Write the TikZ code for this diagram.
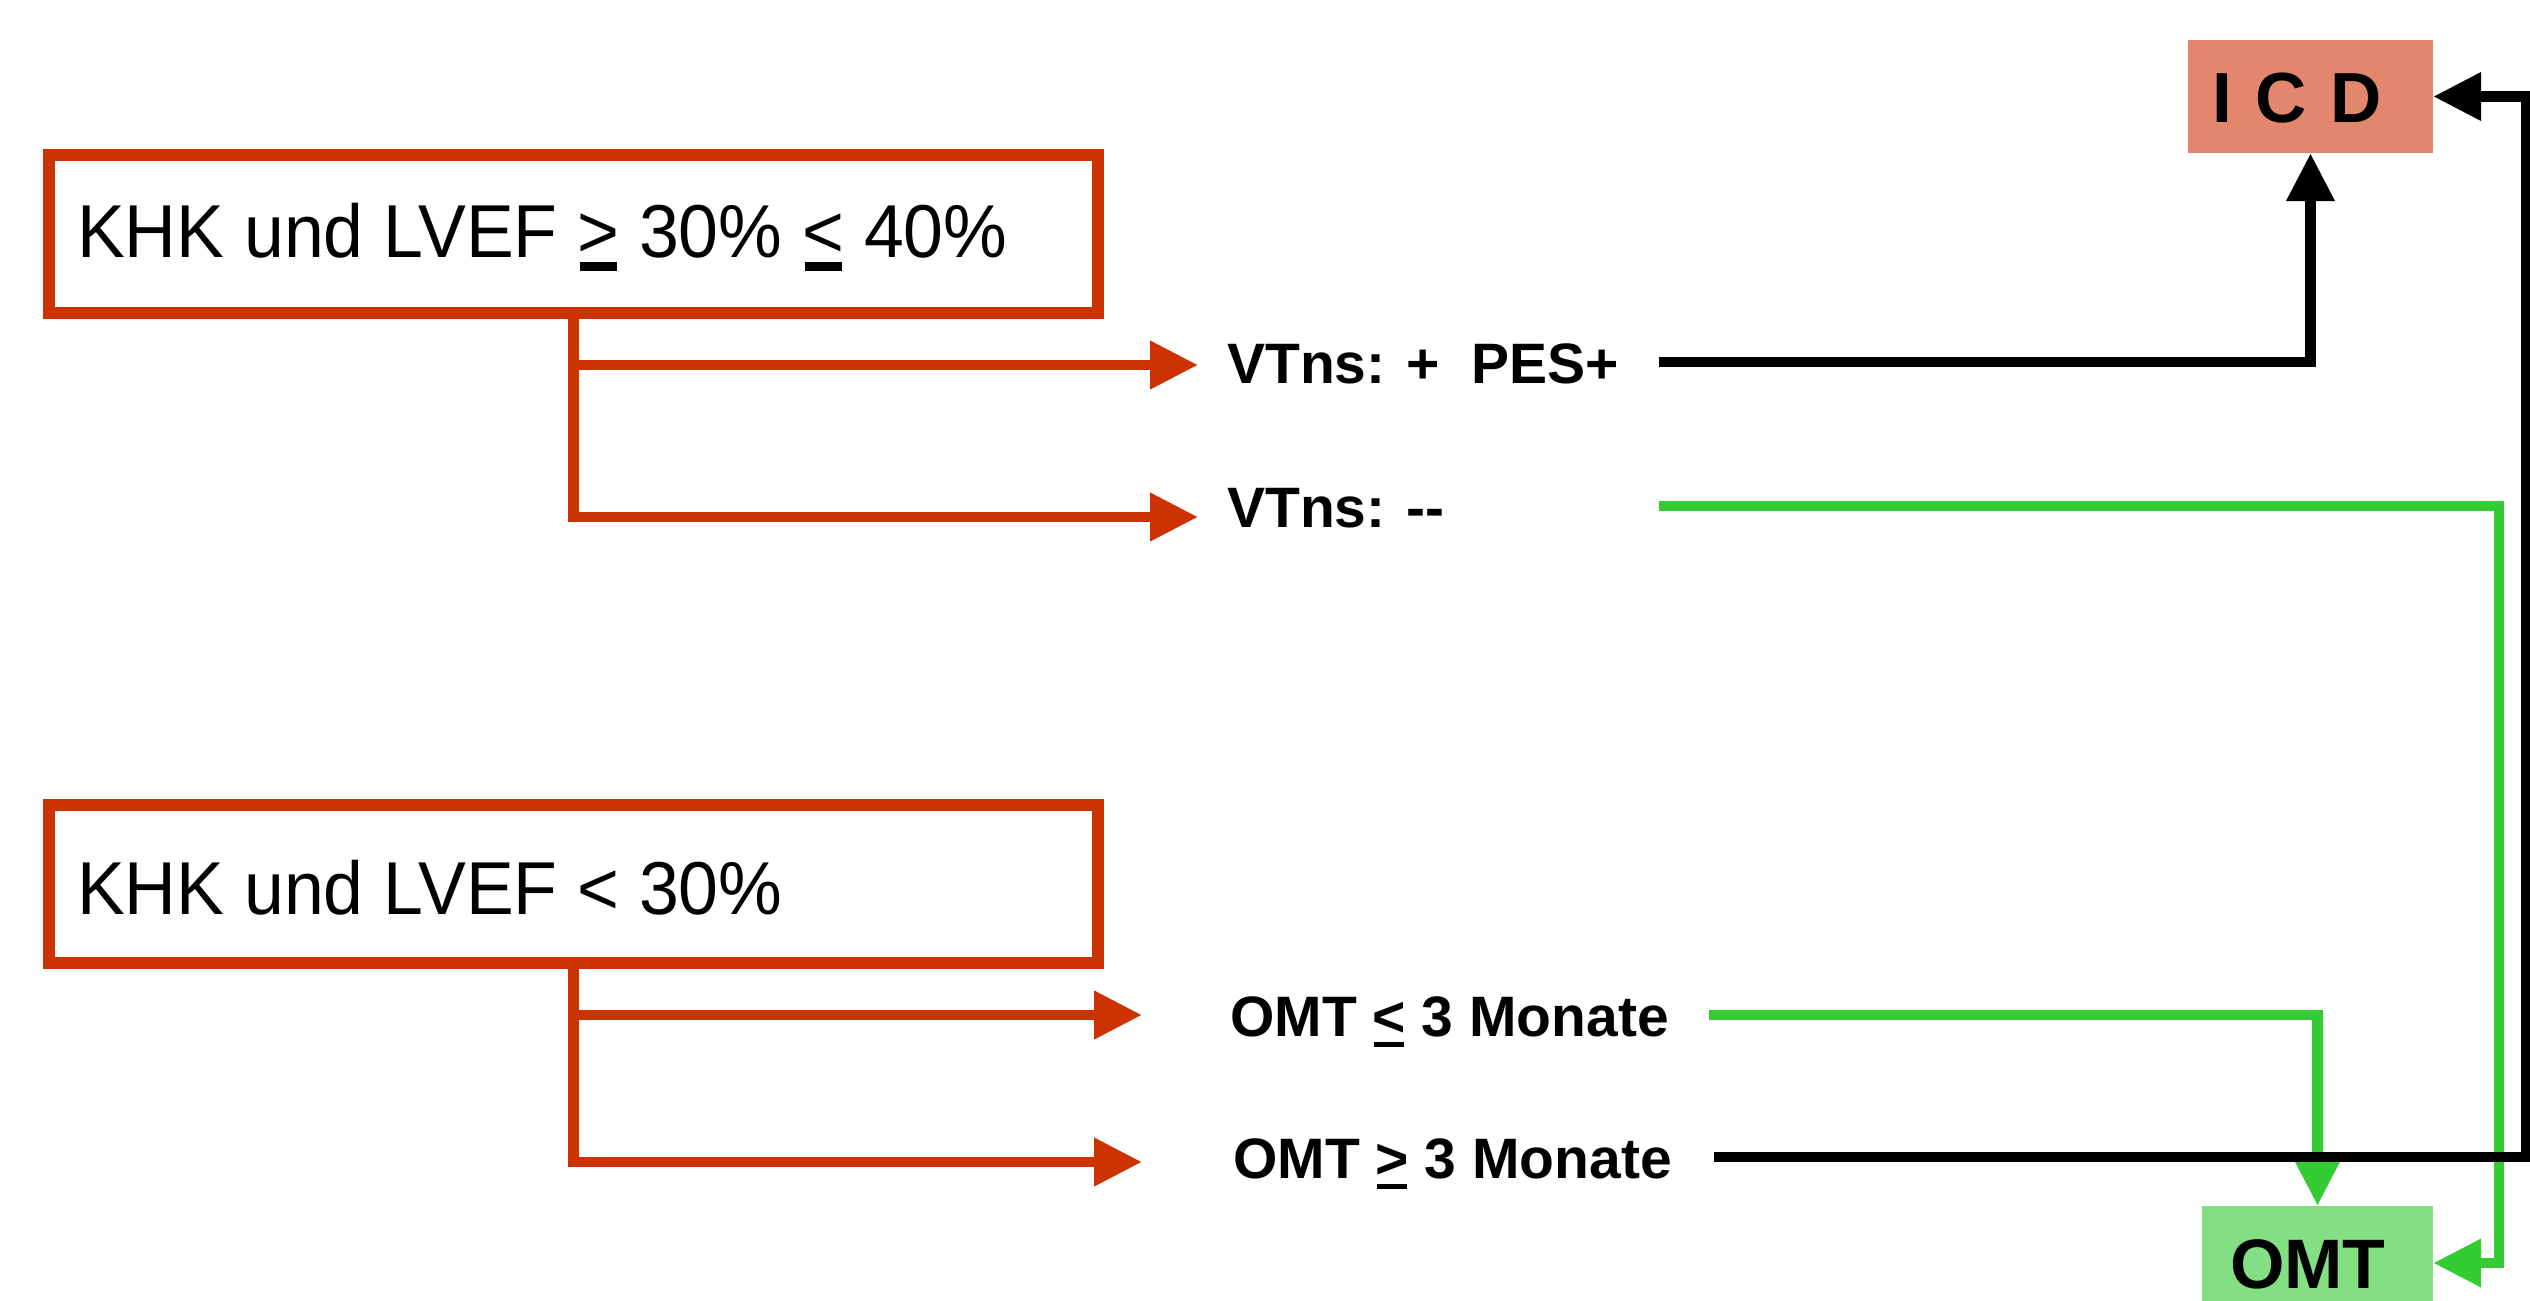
\documentclass[tikz,border=0pt]{standalone}
\usepackage{fontspec}
\setmainfont{Liberation Sans}
\newfontfamily\boxfont[FakeStretch=0.955]{Liberation Sans}
\usetikzlibrary{arrows.meta}
\definecolor{ored}{RGB}{204,51,0}
\definecolor{ogreen}{RGB}{51,204,51}
\definecolor{icdfill}{RGB}{226,134,110}
\definecolor{omtfill}{RGB}{132,222,132}
\newcommand\ulsym[3]{\setbox0=\hbox{#1}\rlap{\hbox to \wd0{\hss\rule[-#2]{0.9\wd0}{#3}\hss}}\box0\relax}
\begin{document}
\begin{tikzpicture}[x=1pt,y=-1pt,
  condbox/.style={draw=ored, line width=12pt, minimum width=1049pt, minimum height=158pt, inner sep=0pt},
  boxtext/.style={anchor=base west, inner sep=0pt, font=\boxfont\fontsize{75}{90}\selectfont},
  lbl/.style={anchor=base west, inner sep=0pt, font=\bfseries\fontsize{57}{68}\selectfont},
  tipA/.style={-{Triangle[length=48pt,width=46pt]}},
  redarrow/.style={draw=ored, line width=10.5pt, tipA},
  greenarrow/.style={draw=ogreen, line width=10.5pt, tipA},
  blackarrow/.style={draw=black, line width=10.5pt, tipA},
  icdbox/.style={fill=icdfill, minimum width=245pt, minimum height=113pt, inner sep=0pt,
    text width=196pt, align=left, text height=51pt, text depth=0pt,
    font=\bfseries\fontsize{71}{85}\selectfont},
  omtbox/.style={fill=omtfill, minimum width=231pt, minimum height=114pt, inner sep=0pt,
    text width=175pt, align=left, text height=50pt, text depth=0pt,
    font=\bfseries\fontsize{70}{84}\selectfont}
]
\useasboundingbox (0,0) rectangle (2530,1301);

% condition boxes
\node[condbox] (b1) at (573.5,234) {};
\node[boxtext] (t1) at (77,257) {KHK und LVEF \ulsym{>}{0.187em}{0.12em} 30\% \ulsym{<}{0.187em}{0.12em} 40\%};
\node[condbox] (b2) at (573.5,884) {};
\node[boxtext] (t2) at (77,914) {KHK und LVEF < 30\%};

% labels
\node[lbl] (v1) at (1227,383) {VTns: +\ \ PES+};
\node[lbl] (v2) at (1227,527) {VTns: -{}-};
\node[lbl] (o1) at (1230,1036) {OMT \ulsym{<}{0.2em}{0.1em} 3 Monate};
\node[lbl] (o2) at (1233,1178) {OMT \ulsym{>}{0.2em}{0.1em} 3 Monate};

% result boxes
\node[icdbox] (icd) at (2310.5,96.5) {I C D};
\node[omtbox] (omt) at (2317.5,1263) {OMT};

% connector points
\coordinate (a1) at (1198,365);
\coordinate (a2) at (1198,517);
\coordinate (a3) at (1142,1015);
\coordinate (a4) at (1142,1162);
\coordinate (p1) at (1659,362);
\coordinate (p2) at (1659,506);
\coordinate (p3) at (1709,1015);
\coordinate (p4) at (1714,1157);

% red branches
\draw[redarrow] (b1.south) |- (a1);
\draw[redarrow] (b1.south) |- (a2);
\draw[redarrow] (b2.south) |- (a3);
\draw[redarrow] (b2.south) |- (a4);

% green connectors
\draw[greenarrow] (p2) -| ([xshift=66pt]omt.east) -- (omt.east);
\draw[greenarrow] (p3) -| (omt.north);

% black connectors
\draw[blackarrow] (p1) -| (icd.south);
\draw[blackarrow] (p4) -| ([xshift=93pt]icd.east) -- (icd.east);
\end{tikzpicture}
\end{document}
